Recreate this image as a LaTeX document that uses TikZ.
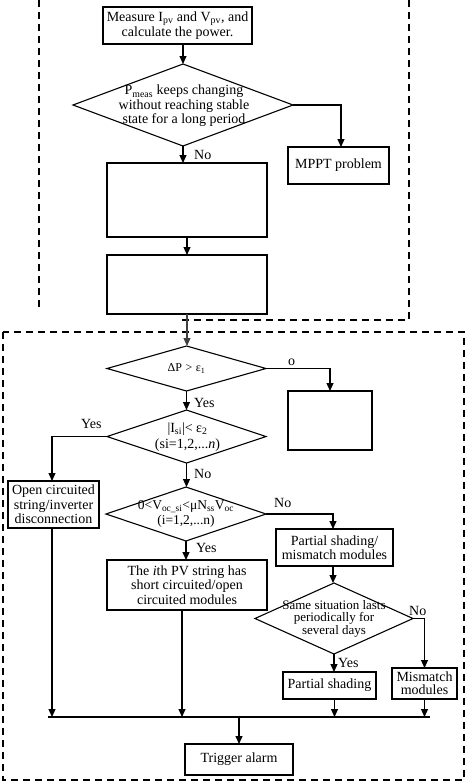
\documentclass[tikz,border=0pt]{standalone}
\usepackage{fontspec}
\setmainfont{Liberation Serif}
\usetikzlibrary{arrows.meta,shapes.geometric}
\begin{document}
\begin{tikzpicture}[x=1pt,y=-1pt, font=\fontsize{14}{14.5}\selectfont,
 box/.style={draw, line width=1.1pt, inner sep=0pt, outer sep=0pt, align=center},
 dia/.style={draw, diamond, line width=1.1pt, inner sep=0pt, outer sep=0pt},
 dtxt/.style={inner sep=0pt, align=center},
 arr/.style={line width=1.1pt, -{Triangle[length=8pt,width=7pt]}},
 ln/.style={line width=1.1pt},
 lbl/.style={inner sep=0pt, anchor=west},
 frame/.style={line width=1.3pt, dash pattern=on 7pt off 5pt}]
\useasboundingbox (0,0) rectangle (474,782);
% dashed frames
\draw[frame] (39,0) -- (39,308);
\draw[frame] (409,0) -- (409,320) -- (180,320);
\draw[frame] (3,332) rectangle (464,780);
% nodes
\node[box, minimum width=149pt, minimum height=37pt] (m1) at (177.5,25.5) {Measure I\textsubscript{pv} and V\textsubscript{pv}, and\\calculate the power.};
\node[dia, minimum width=220pt, minimum height=82pt] (d1) at (183,105) {};
\node[dtxt] (d1t) at (184,106) {P\textsubscript{meas} keeps changing\\without reaching stable\\state for a long period};
\node[box, minimum width=101pt, minimum height=37pt] (mppt) at (338.5,165.5) {MPPT problem};
\node[box, minimum width=160pt, minimum height=74pt] (b2) at (187,200) {};
\node[box, minimum width=160pt, minimum height=59pt] (b3) at (187,284.5) {};
\node[dia, minimum width=159pt, minimum height=45pt] (d2) at (186.5,368.5) {};
\node[dtxt, font=\fontsize{12}{13}\selectfont] (d2t) at (d2) {ΔP\hspace{0.3em}>\hspace{0.3em}ε\textsubscript{1}};
\node[box, minimum width=84pt, minimum height=59pt] (e1) at (330,420.5) {};
\node[dia, minimum width=159pt, minimum height=53pt] (d3) at (186.5,436.5) {};
\node[dtxt, font=\fontsize{14}{15.5}\selectfont] (d3t) at (187.5,437) {|I\textsubscript{si}|< ε\textsubscript{2}\\(si=1,2,...\textit{n})};
\node[box, minimum width=91pt, minimum height=47pt] (oc) at (53.5,504.5) {Open circuited\\string/inverter\\disconnection};
\node[dia, minimum width=160pt, minimum height=54pt] (d4) at (186,514) {};
\node[dtxt, font=\fontsize{13.5}{15}\selectfont] (d4t) at (d4) {0<V\textsubscript{oc\_si}<μN\textsubscript{ss}V\textsubscript{oc}\\(i=1,2,...n)};
\node[box, minimum width=117pt, minimum height=37pt] (ps) at (334.5,547.5) {Partial shading/\\mismatch modules};
\node[dia, minimum width=158pt, minimum height=71pt] (d5) at (334,618.5) {};
\node[dtxt, font=\fontsize{13}{12.5}\selectfont] (d5t) at (d5) {Same situation lasts\\periodically for\\several days};
\node[box, minimum width=160pt, minimum height=50pt] (ith) at (187,585) {The \textit{i}th PV string has\\short circuited/open\\circuited modules};
\node[box, minimum width=93pt, minimum height=27pt] (psh) at (329.5,685.5) {Partial shading};
\node[box, minimum width=65pt, minimum height=31pt, font=\fontsize{14}{13}\selectfont] (mm) at (424.5,683.5) {Mismatch\\modules};
\node[box, minimum width=108pt, minimum height=31pt] (ta) at (239,759.5) {Trigger alarm};
\coordinate (busL) at (48,717);
\coordinate (busR) at (430,717);
% connectors
\draw[arr] (m1.south -| d1.north) -- (d1.north);
\draw[arr] (d1.east) -| ([xshift=2.5pt]mppt.north);
\draw[arr] (d1.south) -- (d1.south |- b2.north);
\draw[arr] (b2.south) -- (b3.north);
\draw[arr, draw=black!75, fill=black!75] (b3.south) -- (b3.south |- d2.north);
\draw[arr] (d2.east) -| (e1.north);
\draw[arr] (d2.south) -- (d2.south |- d3.north);
\draw[arr] (d3.west) -| ([xshift=-1.5pt]oc.north);
\draw[arr] (d3.south) -- (d3.south |- d4.north);
\draw[arr] (d4.east) -| ([xshift=-1.5pt]ps.north);
\draw[arr] ([xshift=-1.5pt]ps.south) -- ([xshift=-1.5pt]ps.south |- d5.north);
\draw[arr] (d5.east) -| (mm.north);
\draw[arr] (d5.south) -- (d5.south |- psh.north);
\draw[arr] (d4.south) -- (d4.south |- ith.north);
\draw[ln] (busL) -- (busR);
\draw[arr] ([xshift=-1.5pt]oc.south) -- ([xshift=-1.5pt]oc.south |- busL);
\draw[arr] ([xshift=-5pt]ith.south) -- ([xshift=-5pt]ith.south |- busL);
\draw[arr] ([xshift=5pt]psh.south) -- ([xshift=5pt]psh.south |- busL);
\draw[arr] (mm.south) -- (mm.south |- busL);
\draw[arr] (ta.north |- busL) -- (ta.north);
% labels
\node[lbl] (l1) at (194,155) {No};
\node[lbl] (l2) at (194,403) {Yes};
\node[lbl] (l3) at (81,424) {Yes};
\node[lbl] (l4) at (194,474) {No};
\node[lbl] (l5) at (274,503) {No};
\node[lbl] (l6) at (196,548) {Yes};
\node[lbl] (l7) at (409,611) {No};
\node[lbl] (l8) at (338,663) {Yes};
\node[lbl] (l9) at (288,362) {o};
\end{tikzpicture}
\end{document}
